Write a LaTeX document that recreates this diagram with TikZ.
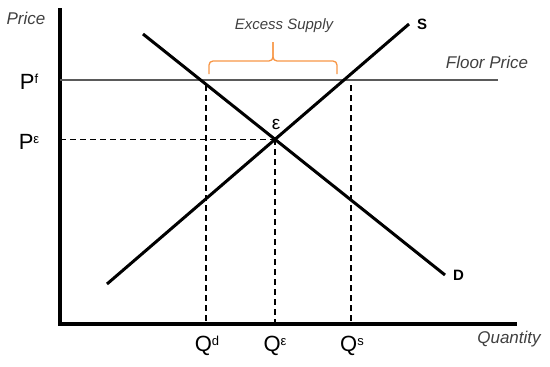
\documentclass[tikz,border=0pt]{standalone}
\usepackage{fontspec}
\setmainfont{Liberation Sans}
\usepackage{tikz}
\usetikzlibrary{positioning, calc}
\definecolor{axisline}{HTML}{000000}
\definecolor{floorline}{HTML}{5A5A5A}
\definecolor{braceline}{HTML}{F79646}
\definecolor{lbltext}{HTML}{404040}
\newcommand{\sups}[1]{\raisebox{6.5pt}{\fontsize{13}{14}\selectfont #1}}
\tikzset{
  axes/.style    = {line width=3.4pt, draw=axisline},
  curve/.style   = {line width=3pt, draw=black},
  floor/.style   = {line width=1.4pt, draw=floorline},
  guide/.style   = {line width=1.3pt, dash pattern=on 6pt off 4pt},
  axlbl/.style   = {font=\fontsize{17}{20}\selectfont\itshape, text=lbltext, inner sep=1pt},
  pqlbl/.style   = {font=\fontsize{22}{26}\selectfont, inner sep=1pt},
  curvelbl/.style= {font=\fontsize{15}{18}\selectfont\bfseries, inner sep=1pt},
  excess/.style  = {line width=1.3pt, draw=braceline, rounded corners=4pt},
}

\begin{document}
\begin{tikzpicture}[x=1pt, y=-1pt]
        \useasboundingbox (0,0) rectangle (550,367);
        % axes
        \coordinate (ytop) at (60,8);
        \coordinate (orig) at (60,324);
        \coordinate (xend) at (517,324);
        \draw[axes] (ytop) -- (orig) -- (xend);
        % floor price
        \coordinate (fl) at (60,80);
        \coordinate (fr) at (498,80);
        \draw[floor] (fl) -- (fr);
        % demand and supply
        \coordinate (d1) at (143,34);
        \coordinate (d2) at (445,275);
        \coordinate (s1) at (107,284);
        \coordinate (s2) at (409,24);
        \draw[curve] (d1) -- (d2);
        \draw[curve] (s1) -- (s2);
        \coordinate (eq) at (intersection of d1--d2 and s1--s2);
        % guides
        \coordinate (qd) at (206,85);
        \coordinate (qs) at (351,85);
        \coordinate (pe) at (orig |- eq);
        \draw[guide] (pe) -- (eq);
        \draw[guide] (eq) -- (eq |- orig);
        \draw[guide] (qd) -- (qd |- orig);
        \draw[guide] (qs) -- (qs |- orig);
        % excess supply brace
        \coordinate (bl) at (209,74);
        \coordinate (br) at (337,74);
        \coordinate (bm) at (273,61);
        \coordinate (bt) at (273,42);
        \draw[excess] (bl) |- (bm) -- (bt);
        \draw[excess] (br) |- (bm) -- (bt);
        % labels
        \node[axlbl] (price) at (26,18) {Price};
        \node[axlbl] (qty) at (509,339) {Quantity};
        \node[axlbl] (floorlbl) at (487,62) {Floor Price};
        \node[axlbl, font=\fontsize{15}{18}\selectfont\itshape] (exlbl) at (284,26) {Excess Supply};
        \node[pqlbl] (pflbl) at (29,82) {P\sups{f}};
        \node[pqlbl] (pelbl) at (29,142) {P\sups{ε}};
        \node[pqlbl] (qdlbl) at (207,346) {Q\sups{d}};
        \node[pqlbl] (qelbl) at (275,346) {Q\sups{ε}};
        \node[pqlbl] (qslbl) at (352,346) {Q\sups{s}};
        \node[pqlbl, font=\fontsize{19}{22}\selectfont] (elbl) at (276,124) {ε};
        \node[curvelbl, right=7pt of s2] (slbl) {S};
        \node[curvelbl, right=7pt of d2] (dlbl) {D};
    \end{tikzpicture}
\end{document}
